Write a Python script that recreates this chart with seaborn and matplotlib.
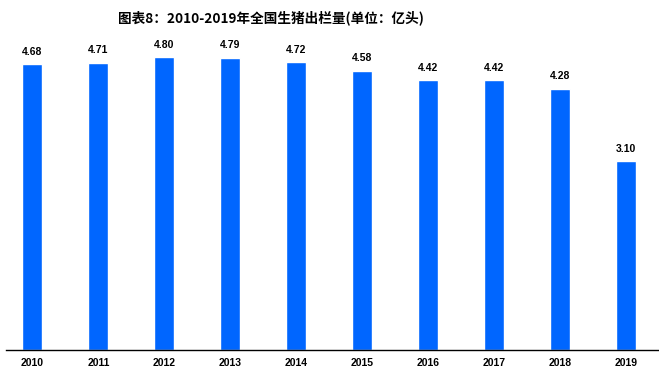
import matplotlib
matplotlib.use("Agg")
import matplotlib.pyplot as plt
import pandas as pd
import seaborn as sns

years = ["2010", "2011", "2012", "2013", "2014", "2015", "2016", "2017", "2018", "2019"]
hogs = [4.68, 4.71, 4.80, 4.79, 4.72, 4.58, 4.42, 4.42, 4.28, 3.10]
title = "图表8：2010-2019年全国生猪出栏量(单位：亿头)"

sns.set_style("white")
plt.rcParams["font.family"] = ["Noto Sans CJK SC", "DejaVu Sans"]
plt.rcParams["text.color"] = "black"
plt.rcParams["xtick.color"] = "black"

df = pd.DataFrame({"year": years, "value": hogs})

fig = plt.figure(figsize=(6.59, 3.83), dpi=100)
ax = fig.add_axes([6 / 659, 33 / 383, 653 / 659, 310 / 383])
sns.barplot(data=df, x="year", y="value", color="#0066FF", width=0.3,
            saturation=1, ax=ax)

for i, v in enumerate(hogs):
    ax.text(i, v + 0.12, f"{v:.2f}", ha="center", va="bottom", color="black",
            fontsize=7.5, fontweight="bold", family=["Liberation Sans", "DejaVu Sans"])

ax.set_xlim(-0.4, 9.5)
ax.set_ylim(0, 5.08)
ax.set_xlabel(""); ax.set_ylabel("")
ax.set_yticks([])
ax.tick_params(axis="x", length=0, pad=6, labelcolor="black")
for lab in ax.get_xticklabels():
    lab.set_fontweight("bold")
    lab.set_fontsize(7.5)
    lab.set_family(["Liberation Sans", "DejaVu Sans"])
ax.spines[["top", "right", "left"]].set_visible(False)
ax.spines["bottom"].set_color("black")
ax.spines["bottom"].set_linewidth(1)

fig.text(118 / 659, 1 - 18 / 383, title, ha="left", va="center", color="black",
         fontsize=9.8, fontweight="bold")

fig.savefig("out.png", dpi=100)
